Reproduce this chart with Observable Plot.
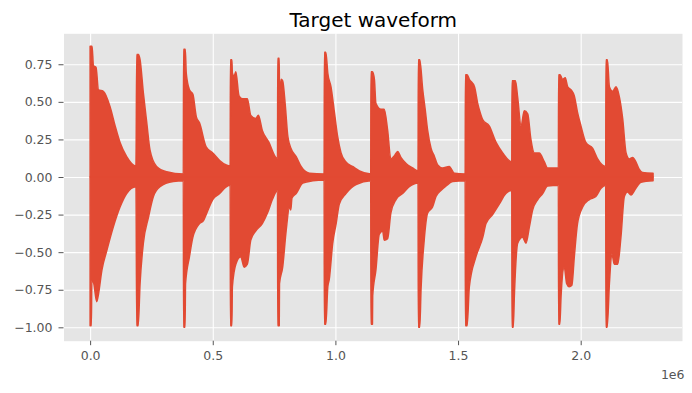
<!DOCTYPE html>
<html>
<head>
<meta charset="utf-8">
<script src="https://cdn.jsdelivr.net/npm/d3@7"></script>
<script src="https://cdn.jsdelivr.net/npm/@observablehq/plot@0.6"></script>
<style>
  html, body { margin: 0; padding: 0; background: #ffffff; }
  #chart { width: 692px; height: 393px; }
</style>
</head>
<body>
<div id="chart"></div>
<script>
// Waveform envelope (x in units of 1e6 samples)
const title = "Target waveform";
const xTicks = [0, 0.5, 1.0, 1.5, 2.0];
const yTicks = [-1.0, -0.75, -0.5, -0.25, 0, 0.25, 0.5, 0.75];
const offsetLabel = "1e6";

const upperT = [
  0, 0.008, 0.0136, 0.024, 0.034, 0.054, 0.081, 0.102, 0.122, 0.149, 0.187,
  0.19, 0.197, 0.2036, 0.217, 0.231, 0.244, 0.271, 0.312, 0.380,
  0.381, 0.388, 0.392, 0.405, 0.419, 0.433, 0.446, 0.473, 0.5, 0.528, 0.555, 0.571,
  0.572, 0.578, 0.580, 0.587, 0.594, 0.607, 0.621, 0.641, 0.655, 0.675, 0.686, 0.702, 0.729, 0.757, 0.764,
  0.765, 0.771, 0.772, 0.779, 0.785, 0.796, 0.806, 0.819, 0.840, 0.860, 0.894, 0.954,
  0.955, 0.961, 0.969, 0.982, 0.996, 1.009, 1.023, 1.043, 1.070, 1.098, 1.144,
  1.145, 1.151, 1.159, 1.165, 1.186, 1.199, 1.213, 1.226, 1.240, 1.254, 1.267, 1.288, 1.315, 1.337,
  1.338, 1.344, 1.356, 1.366, 1.376, 1.390, 1.403, 1.417, 1.437, 1.464, 1.485, 1.529,
  1.530, 1.537, 1.546, 1.567, 1.580, 1.590, 1.601, 1.627, 1.655, 1.682, 1.719,
  1.720, 1.734, 1.743, 1.757, 1.770, 1.784, 1.797, 1.811, 1.831, 1.852, 1.865, 1.909,
  1.910, 1.916, 1.926, 1.937, 1.947, 1.961, 1.974, 1.987, 2.001, 2.021, 2.049, 2.069, 2.102,
  2.103, 2.109, 2.117, 2.130, 2.144, 2.158, 2.171, 2.185, 2.198, 2.212, 2.225, 2.239, 2.252, 2.295
];
const upperV = [
  0.87, 0.87, 0.74, 0.73, 0.58, 0.57, 0.47, 0.34, 0.23, 0.136, 0.073,
  0.815, 0.815, 0.78, 0.56, 0.36, 0.18, 0.07, 0.035, 0.02,
  0.85, 0.85, 0.69, 0.58, 0.55, 0.40, 0.36, 0.2, 0.16, 0.11, 0.08, 0.073,
  0.78, 0.78, 0.69, 0.67, 0.70, 0.54, 0.52, 0.52, 0.41, 0.39, 0.41, 0.31, 0.23, 0.13, 0.12,
  0.79, 0.79, 0.54, 0.65, 0.64, 0.47, 0.27, 0.19, 0.136, 0.07, 0.025, 0.02,
  0.83, 0.83, 0.69, 0.60, 0.43, 0.27, 0.16, 0.10, 0.07, 0.04, 0.02,
  0.70, 0.70, 0.65, 0.49, 0.45, 0.45, 0.31, 0.12, 0.14, 0.17, 0.13, 0.09, 0.06, 0.04,
  0.78, 0.78, 0.58, 0.45, 0.31, 0.19, 0.14, 0.08, 0.06, 0.07, 0.025, 0.02,
  0.68, 0.68, 0.65, 0.60, 0.49, 0.43, 0.38, 0.34, 0.23, 0.16, 0.10,
  0.64, 0.64, 0.53, 0.34, 0.44, 0.42, 0.25, 0.16, 0.16, 0.10, 0.06, 0.06,
  0.68, 0.68, 0.65, 0.66, 0.60, 0.58, 0.54, 0.43, 0.34, 0.23, 0.19, 0.12, 0.07,
  0.78, 0.78, 0.60, 0.57, 0.60, 0.53, 0.39, 0.16, 0.12, 0.13, 0.10, 0.05, 0.03, 0.025
];
const lowerT = [
  0, 0.005, 0.007, 0.0136, 0.027, 0.034, 0.048, 0.068, 0.095, 0.122, 0.149, 0.187,
  0.19, 0.196, 0.2036, 0.217, 0.2375, 0.258, 0.285, 0.339, 0.380,
  0.381, 0.387, 0.389, 0.405, 0.419, 0.446, 0.462, 0.473, 0.5, 0.528, 0.555, 0.571,
  0.572, 0.578, 0.580, 0.594, 0.614, 0.628, 0.641, 0.655, 0.675, 0.702, 0.723, 0.743, 0.764,
  0.765, 0.771, 0.772, 0.785, 0.799, 0.813, 0.818, 0.823, 0.840, 0.867, 0.908, 0.954,
  0.955, 0.961, 0.969, 0.975, 0.989, 1.003, 1.016, 1.043, 1.084, 1.144,
  1.145, 1.151, 1.152, 1.165, 1.179, 1.193, 1.199, 1.213, 1.226, 1.247, 1.274, 1.301, 1.337,
  1.338, 1.344, 1.349, 1.362, 1.376, 1.396, 1.410, 1.430, 1.451, 1.478, 1.529,
  1.530, 1.537, 1.546, 1.573, 1.601, 1.614, 1.641, 1.668, 1.695, 1.719,
  1.720, 1.725, 1.730, 1.743, 1.763, 1.777, 1.791, 1.804, 1.825, 1.845, 1.865, 1.909,
  1.910, 1.915, 1.920, 1.933, 1.943, 1.953, 1.964, 1.974, 1.987, 2.008, 2.035, 2.062, 2.083, 2.102,
  2.103, 2.108, 2.117, 2.127, 2.137, 2.151, 2.164, 2.178, 2.191, 2.205, 2.225, 2.246, 2.295
];
const lowerV = [
  -0.99, -0.99, -0.69, -0.70, -0.83, -0.78, -0.62, -0.49, -0.33, -0.2, -0.11, -0.065,
  -0.99, -0.99, -0.71, -0.44, -0.27, -0.13, -0.065, -0.03, -0.025,
  -1.0, -1.0, -0.71, -0.53, -0.40, -0.31, -0.29, -0.25, -0.15, -0.11, -0.065, -0.055,
  -0.99, -0.99, -0.73, -0.58, -0.53, -0.60, -0.58, -0.42, -0.36, -0.31, -0.24, -0.15, -0.09,
  -0.99, -0.99, -0.71, -0.60, -0.36, -0.20, -0.22, -0.14, -0.11, -0.04, -0.025, -0.02,
  -0.98, -0.98, -0.73, -0.68, -0.44, -0.31, -0.18, -0.11, -0.05, -0.025,
  -0.98, -0.98, -0.79, -0.62, -0.38, -0.36, -0.42, -0.41, -0.24, -0.15, -0.11, -0.065, -0.04,
  -1.0, -1.0, -0.75, -0.42, -0.24, -0.2, -0.13, -0.09, -0.06, -0.03, -0.025,
  -0.99, -0.99, -0.73, -0.53, -0.40, -0.31, -0.25, -0.18, -0.11, -0.09,
  -1.0, -1.0, -0.77, -0.44, -0.40, -0.44, -0.33, -0.22, -0.15, -0.11, -0.06, -0.055,
  -0.98, -0.98, -0.79, -0.60, -0.71, -0.73, -0.72, -0.53, -0.31, -0.20, -0.15, -0.13, -0.075, -0.055,
  -1.0, -1.0, -0.71, -0.51, -0.58, -0.58, -0.40, -0.13, -0.10, -0.12, -0.075, -0.035, -0.025
];

const upper = upperT.map((t, i) => ({t, v: upperV[i]}));
const lower = lowerT.map((t, i) => ({t, v: lowerV[i]}));

const waveColor = "#E24A33";
const fmt1 = d3.format(".1f");
const fmt2 = d3.format(".2f");

const chart = Plot.plot({
  width: 692,
  height: 393,
  marginLeft: 63.5,
  marginRight: 10,
  marginTop: 33.3,
  marginBottom: 52.3,
  style: {fontFamily: "DejaVu Sans", fontSize: "12.5px", color: "#555555", background: "#ffffff"},
  x: {domain: [-0.1085, 2.413]},
  y: {domain: [-1.089, 0.956]},
  marks: [
    Plot.frame({fill: "#E5E5E5", stroke: null}),
    Plot.gridX(xTicks, {stroke: "#ffffff", strokeOpacity: 1, strokeWidth: 1.1}),
    Plot.gridY(yTicks, {stroke: "#ffffff", strokeOpacity: 1, strokeWidth: 1.1}),
    Plot.areaY(upper, {x: "t", y1: 0, y2: "v", curve: "monotone-x", fill: waveColor, stroke: waveColor, strokeWidth: 1.5, strokeLinejoin: "round"}),
    Plot.areaY(lower, {x: "t", y1: 0, y2: "v", curve: "monotone-x", fill: waveColor, stroke: waveColor, strokeWidth: 1.5, strokeLinejoin: "round"}),
    Plot.axisX(xTicks, {tickFormat: fmt1, tickSize: 4.5, tickPadding: 5, label: null, stroke: "#555555", fill: "#555555"}),
    Plot.axisY(yTicks, {tickFormat: fmt2, tickSize: 5, tickPadding: 6.5, label: null, stroke: "#555555", fill: "#555555"}),
    Plot.text([offsetLabel], {frameAnchor: "bottom-right", dx: 2, dy: 38, text: d => d, textAnchor: "end", lineAnchor: "bottom", fill: "#555555", fontSize: 12.5}),
    Plot.text([title], {frameAnchor: "top", dy: -7, text: d => d, lineAnchor: "bottom", fill: "#000000", fontSize: 20})
  ]
});
document.getElementById("chart").appendChild(chart);
</script>
</body>
</html>
